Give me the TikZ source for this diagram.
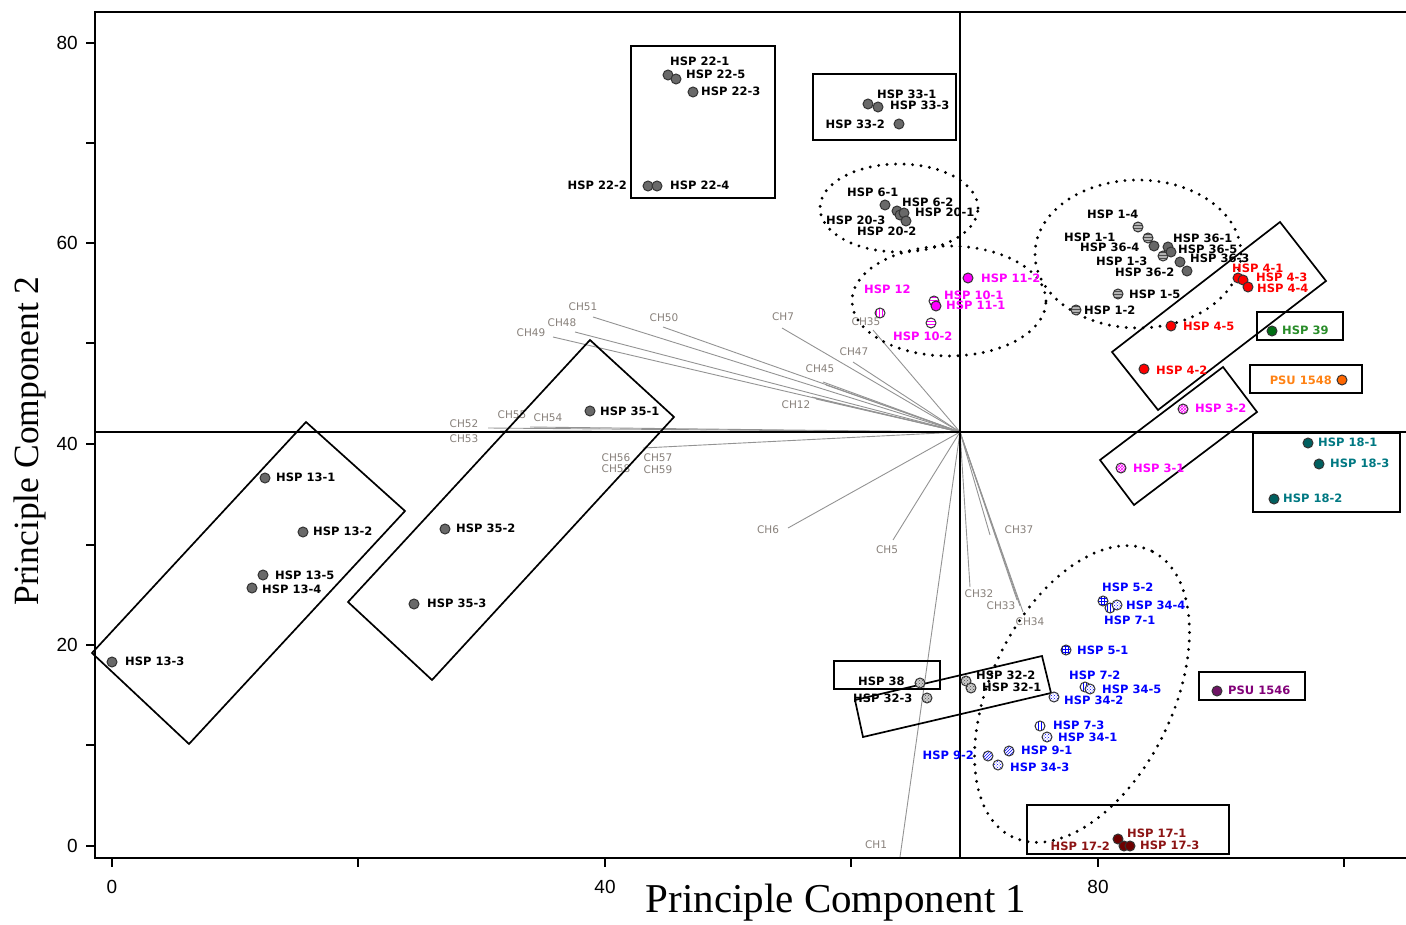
\documentclass[tikz,border=0pt]{standalone}
\usepackage{fontspec}
\setmainfont{Liberation Serif}
\newfontfamily\labff{DejaVu Sans}
\newfontfamily\tickff{Liberation Sans}
\usetikzlibrary{patterns}
\newcommand\labfont{\labff\bfseries\fontsize{11.5}{13}\selectfont}
\newcommand\chfont{\labff\fontsize{10.5}{12}\selectfont}
\definecolor{chgray}{RGB}{135,128,122}
\definecolor{ptgray}{RGB}{105,105,105}
\definecolor{mag}{RGB}{255,0,255}
\definecolor{hgreen}{RGB}{0,110,20}
\definecolor{lgreen}{RGB}{40,140,40}
\definecolor{horange}{RGB}{255,102,0}
\definecolor{lorange}{RGB}{255,130,20}
\definecolor{hteal}{RGB}{0,95,95}
\definecolor{lteal}{RGB}{0,120,130}
\definecolor{hdred}{RGB}{110,0,0}
\definecolor{ldred}{RGB}{140,20,20}
\definecolor{hpurple}{RGB}{110,20,100}
\definecolor{lpurple}{RGB}{130,0,120}
\tikzset{
  pt/.style={circle, draw=black!80, line width=1pt, inner sep=0pt, minimum size=10pt},
  gpt/.style={pt, fill=ptgray},
  dgpt/.style={pt, fill=black!60},
  hgpt/.style={pt, preaction={fill=black!30}, pattern=horizontal lines, pattern color=black!70},
  cgpt/.style={pt, preaction={fill=black!20}, pattern=crosshatch dots, pattern color=black!70},
  colpt/.style={pt, fill=#1},
  patpt/.style 2 args={pt, preaction={fill=white}, pattern=#1, pattern color=#2},
  lab/.style={anchor=west, inner sep=0pt, font=\labfont},
  labr/.style={anchor=east, inner sep=0pt, font=\labfont},
  ch/.style={font=\chfont, text=chgray, inner sep=0pt},
  vec/.style={draw=gray!85, line width=0.9pt},
  grpbox/.style={draw=black, line width=1.7pt},
  dots/.style={draw=black, line width=3.2pt, dash pattern=on 0pt off 8.5pt, line cap=round},
  axisline/.style={draw=black, line width=2.8pt},
  tickline/.style={draw=black, line width=1.6pt},
  ticklab/.style={font=\tickff\fontsize{19}{21}\selectfont, inner sep=0pt}
}
\begin{document}
\begin{tikzpicture}[x=1pt,y=-1pt]
\useasboundingbox (0,0) rectangle (1406,925);
% ---------- frame and ticks ----------
\draw[axisline] (1406,12) -- (95,12) -- (95,858) -- (1406,858);
\foreach \yy in {43,143,243,343,444,545,645,745,846} \draw[tickline] (86,\yy) -- (95,\yy);
\foreach \xx in {112,358,605,851,1098,1344} \draw[tickline] (\xx,858) -- (\xx,867);
\node[ticklab, anchor=east] (t80) at (78,43) {80};
\node[ticklab, anchor=east] (t60) at (78,243) {60};
\node[ticklab, anchor=east] (t40) at (78,444) {40};
\node[ticklab, anchor=east] (t20) at (78,645) {20};
\node[ticklab, anchor=east] (t0) at (78,846) {0};
\node[ticklab] (x0) at (112,887) {0};
\node[ticklab] (x40) at (605,887) {40};
\node[ticklab] (x80) at (1098,887) {80};
\node[font=\fontsize{41}{43}\selectfont, inner sep=0pt] (xtitle) at (836,903) {Principle Component 1};
\node[font=\fontsize{35.5}{37}\selectfont, inner sep=0pt, rotate=90] (ytitle) at (30,441) {Principle Component 2};
% ---------- loading vectors ----------
\coordinate (o) at (960,432);
\foreach \nm/\ex/\ey in {c51/593/317, c48/575/332, c49/553/337, c50/663/327, c52/488/428, c55/530/427,
  c53/500/431, c56/643/448, c7/782/328, c45/823/382, c45b/826/385, c12/812/397, c12b/816/399,
  c47/853/362, c35/873/330,
  c6/788/528, c5/893/540, c1/900/857, c32/970/587, c33/1017/600, c34/1023/612, c37/990/535, c38/1020/606}
  {\coordinate (\nm) at (\ex,\ey); \draw[vec] (o) -- (\nm);}
\node[ch] (l51) at (583,307) {CH51};
\node[ch] (l48) at (562,323) {CH48};
\node[ch] (l49) at (531,333) {CH49};
\node[ch] (l50) at (664,318) {CH50};
\node[ch] (l52) at (464,424) {CH52};
\node[ch] (l53) at (464,439) {CH53};
\node[ch] (l55) at (512,415) {CH55};
\node[ch] (l54) at (548,418) {CH54};
\node[ch] (l56) at (616,458) {CH56};
\node[ch] (l58) at (616,469) {CH58};
\node[ch] (l57) at (658,458) {CH57};
\node[ch] (l59) at (658,470) {CH59};
\node[ch] (l7) at (783,317) {CH7};
\node[ch] (l45) at (820,369) {CH45};
\node[ch] (l12) at (796,405) {CH12};
\node[ch] (l47) at (854,352) {CH47};
\node[ch] (l35) at (866,322) {CH35};
\node[ch] (l6) at (768,530) {CH6};
\node[ch] (l5) at (887,550) {CH5};
\node[ch] (l1) at (876,845) {CH1};
\node[ch] (l32) at (979,594) {CH32};
\node[ch] (l33) at (1001,606) {CH33};
\node[ch] (l34) at (1030,622) {CH34};
\node[ch] (l37) at (1019,530) {CH37};
% ---------- crosshair ----------
\draw[axisline] (960,12) -- (960,858);
\draw[axisline] (95,432) -- (1406,432);
% ---------- group outlines ----------
\draw[grpbox] (631,46) rectangle (775,198);
\draw[grpbox] (813,74) rectangle (956,140);
\draw[dots] (899,208) ellipse [x radius=79pt, y radius=44pt];
\draw[dots] (949,301) ellipse [x radius=97pt, y radius=55pt];
\draw[dots] (1138,254) ellipse [x radius=103pt, y radius=74pt];
\draw[dots, rotate around={64:(1082,694)}] (1082,694) ellipse [x radius=159pt, y radius=91pt];
\draw[grpbox] (1112,352) -- (1280,222) -- (1326,281) -- (1158,410) -- cycle;
\draw[grpbox] (1257,312) rectangle (1343,340);
\draw[grpbox] (1250,365) rectangle (1362,393);
\draw[grpbox] (1100,460) -- (1223,367) -- (1257,412) -- (1134,505) -- cycle;
\draw[grpbox] (1253,433) rectangle (1400,512);
\draw[grpbox] (834,661) rectangle (940,689);
\draw[grpbox] (855,700) -- (1042,656) -- (1051,693) -- (863,737) -- cycle;
\draw[grpbox] (1027,805) rectangle (1229,854);
\draw[grpbox] (1199,672) rectangle (1305,700);
\draw[grpbox] (92,653) -- (306,422) -- (405,511) -- (189,744) -- cycle;
\draw[grpbox] (348,602) -- (590,340) -- (674,417) -- (432,680) -- cycle;
% ---------- HSP 22 ----------
\node[gpt] (p221) at (668,75) {};
\node[gpt] (p225) at (676,79) {};
\node[gpt] (p223) at (693,92) {};
\node[gpt] (p222) at (648,186) {};
\node[gpt] (p224) at (657,186) {};
\node[lab] (n221) at (670,61) {HSP 22-1};
\node[lab] (n225) at (686,74) {HSP 22-5};
\node[lab] (n223) at (701,91) {HSP 22-3};
\node[labr] (n222) at (627,185) {HSP 22-2};
\node[lab] (n224) at (670,185) {HSP 22-4};
% ---------- HSP 33 ----------
\node[gpt] (p331) at (868,104) {};
\node[gpt] (p333) at (878,107) {};
\node[gpt] (p332) at (899,124) {};
\node[lab] (n331) at (877,94) {HSP 33-1};
\node[lab] (n333) at (890,105) {HSP 33-3};
\node[labr] (n332) at (885,124) {HSP 33-2};
% ---------- HSP 6 / 20 ----------
\node[gpt] (p61) at (885,205) {};
\node[gpt] (p62) at (897,211) {};
\node[gpt] (p203) at (900,215) {};
\node[gpt] (p201) at (904,213) {};
\node[gpt] (p202) at (906,221) {};
\node[lab] (n61) at (847,192) {HSP 6-1};
\node[lab] (n62) at (902,202) {HSP 6-2};
\node[lab] (n201) at (915,212) {HSP 20-1};
\node[lab] (n203) at (826,220) {HSP 20-3};
\node[lab] (n202) at (857,231) {HSP 20-2};
% ---------- HSP 10 / 11 / 12 ----------
\node[colpt=mag] (p112) at (968,278) {};
\node[patpt={horizontal lines}{mag}] (p101) at (934,301) {};
\node[colpt=mag] (p111) at (936,306) {};
\node[patpt={vertical lines}{mag}] (p12) at (880,313) {};
\node[patpt={horizontal lines}{mag}] (p102) at (931,323) {};
\node[lab, text=mag] (n112) at (981,278) {HSP 11-2};
\node[lab, text=mag] (n12) at (864,289) {HSP 12};
\node[lab, text=mag] (n101) at (944,295) {HSP 10-1};
\node[lab, text=mag] (n111) at (946,305) {HSP 11-1};
\node[lab, text=mag] (n102) at (893,336) {HSP 10-2};
% ---------- HSP 1 / 36 ----------
\node[hgpt] (p14) at (1138,227) {};
\node[hgpt] (p11) at (1148,238) {};
\node[dgpt] (p364) at (1154,246) {};
\node[dgpt] (p361) at (1168,247) {};
\node[hgpt] (p13) at (1163,256) {};
\node[dgpt] (p365) at (1171,252) {};
\node[dgpt] (p363) at (1180,262) {};
\node[dgpt] (p362) at (1187,271) {};
\node[hgpt] (p15) at (1118,294) {};
\node[hgpt] (p12b) at (1076,310) {};
\node[lab] (n14) at (1087,214) {HSP 1-4};
\node[lab] (n11) at (1064,237) {HSP 1-1};
\node[lab] (n364) at (1080,247) {HSP 36-4};
\node[lab] (n361) at (1173,238) {HSP 36-1};
\node[lab] (n365) at (1178,249) {HSP 36-5};
\node[lab] (n13) at (1096,261) {HSP 1-3};
\node[lab] (n363) at (1190,258) {HSP 36-3};
\node[lab] (n362) at (1115,272) {HSP 36-2};
\node[lab] (n15) at (1129,294) {HSP 1-5};
\node[lab] (n12b) at (1084,310) {HSP 1-2};
% ---------- HSP 4 ----------
\node[colpt=red] (p41) at (1238,278) {};
\node[colpt=red] (p43) at (1243,280) {};
\node[colpt=red] (p44) at (1248,287) {};
\node[colpt=red] (p45) at (1171,326) {};
\node[colpt=red] (p42) at (1144,369) {};
\node[lab, text=red] (n41) at (1232,268) {HSP 4-1};
\node[lab, text=red] (n43) at (1256,277) {HSP 4-3};
\node[lab, text=red] (n44) at (1257,288) {HSP 4-4};
\node[lab, text=red] (n45) at (1183,326) {HSP 4-5};
\node[lab, text=red] (n42) at (1156,370) {HSP 4-2};
% ---------- HSP 39, PSU 1548 ----------
\node[colpt=hgreen] (p39) at (1272,331) {};
\node[lab, text=lgreen] (n39) at (1282,330) {HSP 39};
\node[colpt=horange] (p1548) at (1342,380) {};
\node[labr, text=lorange] (n1548) at (1332,380) {PSU 1548};
% ---------- HSP 3 ----------
\node[patpt={crosshatch}{mag}] (p32m) at (1183,409) {};
\node[patpt={crosshatch}{mag}] (p31m) at (1121,468) {};
\node[lab, text=mag] (n32m) at (1195,408) {HSP 3-2};
\node[lab, text=mag] (n31m) at (1133,468) {HSP 3-1};
% ---------- HSP 18 ----------
\node[colpt=hteal] (p181) at (1308,443) {};
\node[colpt=hteal] (p183) at (1319,464) {};
\node[colpt=hteal] (p182) at (1274,499) {};
\node[lab, text=lteal] (n181) at (1318,442) {HSP 18-1};
\node[lab, text=lteal] (n183) at (1330,463) {HSP 18-3};
\node[lab, text=lteal] (n182) at (1283,498) {HSP 18-2};
% ---------- HSP 13 ----------
\node[gpt] (p131) at (265,478) {};
\node[gpt] (p132) at (303,532) {};
\node[gpt] (p135) at (263,575) {};
\node[gpt] (p134) at (252,588) {};
\node[gpt] (p133) at (112,662) {};
\node[lab] (n131) at (276,477) {HSP 13-1};
\node[lab] (n132) at (313,531) {HSP 13-2};
\node[lab] (n135) at (275,575) {HSP 13-5};
\node[lab] (n134) at (262,589) {HSP 13-4};
\node[lab] (n133) at (125,661) {HSP 13-3};
% ---------- HSP 35 ----------
\node[gpt] (p351) at (590,411) {};
\node[gpt] (p352) at (445,529) {};
\node[gpt] (p353) at (414,604) {};
\node[lab] (n351) at (600,411) {HSP 35-1};
\node[lab] (n352) at (456,528) {HSP 35-2};
\node[lab] (n353) at (427,603) {HSP 35-3};
% ---------- HSP 38, 32 ----------
\node[cgpt] (p38) at (920,683) {};
\node[cgpt] (p323) at (927,698) {};
\node[cgpt] (p322) at (966,681) {};
\node[cgpt] (p321) at (971,688) {};
\node[lab] (n38) at (858,681) {HSP 38};
\node[lab] (n323) at (853,698) {HSP 32-3};
\node[lab] (n322) at (976,675) {HSP 32-2};
\node[lab] (n321) at (982,687) {HSP 32-1};
% ---------- blue group ----------
\node[patpt={grid}{blue}] (p52) at (1103,601) {};
\node[patpt={vertical lines}{blue}] (p71) at (1110,608) {};
\node[patpt={crosshatch dots}{blue}] (p344) at (1117,605) {};
\node[patpt={grid}{blue}] (p51) at (1066,650) {};
\node[patpt={vertical lines}{blue}] (p72) at (1085,687) {};
\node[patpt={crosshatch dots}{blue}] (p345) at (1090,689) {};
\node[patpt={crosshatch dots}{blue}] (p342) at (1054,697) {};
\node[patpt={vertical lines}{blue}] (p73) at (1040,726) {};
\node[patpt={crosshatch dots}{blue}] (p341) at (1047,737) {};
\node[patpt={north east lines}{blue}] (p91) at (1009,751) {};
\node[patpt={north east lines}{blue}] (p92) at (988,756) {};
\node[patpt={crosshatch dots}{blue}] (p343) at (998,765) {};
\node[lab, text=blue] (n52) at (1102,587) {HSP 5-2};
\node[lab, text=blue] (n344) at (1126,605) {HSP 34-4};
\node[lab, text=blue] (n71) at (1104,620) {HSP 7-1};
\node[lab, text=blue] (n51) at (1077,650) {HSP 5-1};
\node[lab, text=blue] (n72) at (1069,675) {HSP 7-2};
\node[lab, text=blue] (n345) at (1102,689) {HSP 34-5};
\node[lab, text=blue] (n342) at (1064,700) {HSP 34-2};
\node[lab, text=blue] (n73) at (1053,725) {HSP 7-3};
\node[lab, text=blue] (n341) at (1058,737) {HSP 34-1};
\node[lab, text=blue] (n91) at (1021,750) {HSP 9-1};
\node[labr, text=blue] (n92) at (974,755) {HSP 9-2};
\node[lab, text=blue] (n343) at (1010,767) {HSP 34-3};
% ---------- HSP 17 ----------
\node[colpt=hdred] (p171) at (1118,839) {};
\node[colpt=hdred] (p172) at (1124,846) {};
\node[colpt=hdred] (p173) at (1130,846) {};
\node[lab, text=ldred] (n171) at (1127,833) {HSP 17-1};
\node[lab, text=ldred] (n173) at (1140,845) {HSP 17-3};
\node[labr, text=ldred] (n172) at (1110,846) {HSP 17-2};
% ---------- PSU 1546 ----------
\node[colpt=hpurple] (p1546) at (1217,691) {};
\node[lab, text=lpurple] (n1546) at (1228,690) {PSU 1546};
\end{tikzpicture}
\end{document}
